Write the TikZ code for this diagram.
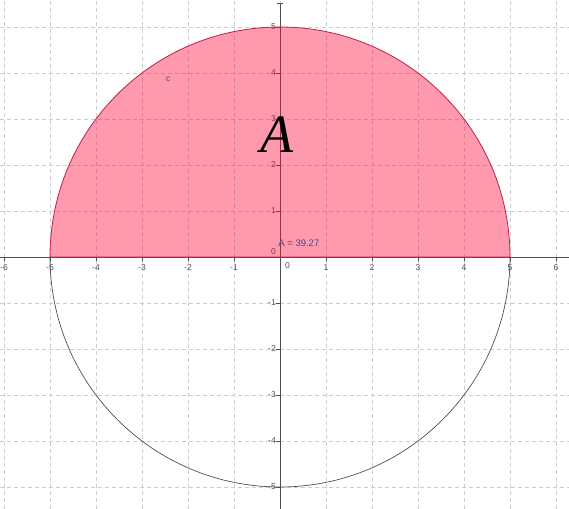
\documentclass[tikz,border=0pt]{standalone}
\usepackage{fontspec}
\newfontfamily\ggbfont{Liberation Sans}
\newfontfamily\letterfont{Liberation Serif}
\usetikzlibrary{arrows.meta, positioning}
\definecolor{gridgray}{HTML}{CDCDCD}
\definecolor{axisgray}{HTML}{505050}
\definecolor{areafill}{HTML}{FF0033}
\definecolor{areaedge}{HTML}{C41E48}
\definecolor{valuetext}{HTML}{47478A}

\begin{document}
\begin{tikzpicture}[
        x=46pt, y=46pt,
        gridline/.style={gridgray, dash pattern=on 4pt off 3pt, line width=0.6pt},
        axisline/.style={axisgray, line width=0.8pt},
        tickmark/.style={axisgray, line width=0.6pt},
        ticklabel/.style={
            inner sep=1pt,
            text=axisgray,
            font=\ggbfont\fontsize{8.5}{9}\selectfont
        },
        halfdisc/.style={fill=areafill, fill opacity=0.4},
        arcedge/.style={draw=areaedge, line width=0.8pt},
        circleline/.style={draw=axisgray, line width=0.7pt},
        valuelabel/.style={text=valuetext, inner sep=0pt, font=\ggbfont\fontsize{9.5}{10}\selectfont}
    ]
        \useasboundingbox (-6.087,-5.478) rectangle (6.283,5.587);

        % grid
        \foreach \i in {-6,...,6}
            \draw[gridline] (\i,-5.478) -- (\i,5.587);
        \foreach \j in {-5,...,5}
            \draw[gridline] (-6.087,\j) -- (6.283,\j);

        % axes
        \coordinate (xstart) at (-6.087,0);
        \coordinate (xend) at (6.283,0);
        \coordinate (ystart) at (0,-5.478);
        \coordinate (yend) at (0,5.52);
        \draw[axisline] (xstart) -- (xend);
        \draw[axisline, -{Bar[width=6pt]}] (ystart) -- (yend);

        \foreach \i in {-6,...,-1,1,2,...,6} {
            \draw[tickmark] (\i,0) -- ++(0,-4pt);
            \node[ticklabel, anchor=north] (xlabel\i) at ([yshift=-6pt]\i,0) {\i};
        }
        \foreach \j in {-5,...,-1,1,2,...,5} {
            \draw[tickmark] (0,\j) -- ++(-4pt,0);
            \node[ticklabel, anchor=east] (ylabel\j) at ([xshift=-3pt]0,\j) {\j};
        }
        \node[ticklabel, anchor=south east] (yzero) at (-3pt,1pt) {0};
        \node[ticklabel, anchor=north west] (xzero) at (4pt,-4pt) {0};

        % half disc and circle
        \fill[halfdisc] (-5,0) arc[start angle=180, end angle=0, radius=5] -- cycle;
        \draw[circleline] (5,0) arc[start angle=0, end angle=-180, radius=5];
        \draw[arcedge] (-5,0) arc[start angle=180, end angle=0, radius=5] -- cycle;

        % labels
        \node[ticklabel] (circlename) at (-2.43,3.87) {c};
        \node[valuelabel] (areavalue) at (0.41,0.30) {A = 39.27};
        \node[inner sep=0pt, font=\letterfont\fontsize{54}{60}\selectfont\itshape] (arealetter) at (-0.07,2.65) {A};
    \end{tikzpicture}
\end{document}
